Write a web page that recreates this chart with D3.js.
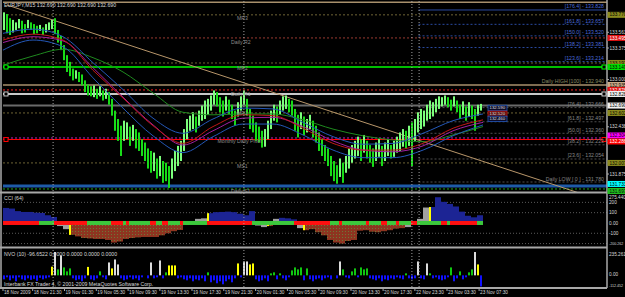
<!DOCTYPE html>
<html>
<head>
<meta charset="utf-8">
<script src="https://cdn.jsdelivr.net/npm/d3@7"></script>
<style>
  body { margin: 0; background: #000; }
  svg { display: block; font-family: "Liberation Sans", Arial, sans-serif; }
</style>
</head>
<body>
<script>
// EURJPY M15, 18 - 23 Nov 2009. One entry = one bar on screen.
const barHigh = [
  133.80, 133.78, 133.73, 133.71, 133.68, 133.72, 133.70, 133.66, 133.71, 133.68,
  133.66, 133.64, 133.65, 133.62, 133.66, 133.68, 133.71, 133.73, 133.59, 133.52,
  133.41, 133.29, 133.21, 133.13, 133.11, 133.09, 133.06, 132.99, 132.94, 132.92,
  132.93, 132.89, 132.92, 132.87, 132.89, 132.85, 132.77, 132.63, 132.53, 132.45,
  132.51, 132.49, 132.44, 132.46, 132.41, 132.37, 132.29, 132.25, 132.18, 132.15,
  132.13, 132.06, 132.09, 132.03, 132.01, 131.97, 132.06, 132.15, 132.21, 132.27,
  132.41, 132.53, 132.57, 132.61, 132.56, 132.63, 132.69, 132.75, 132.77, 132.81,
  132.87, 132.85, 132.79, 132.75, 132.80, 132.76, 132.70, 132.63, 132.73, 132.80,
  132.87, 132.77, 132.65, 132.57, 132.49, 132.44, 132.39, 132.41, 132.51, 132.63,
  132.70, 132.68, 132.75, 132.80, 132.81, 132.77, 132.75, 132.65, 132.58, 132.61,
  132.56, 132.53, 132.58, 132.51, 132.45, 132.37, 132.29, 132.22, 132.18, 132.09,
  132.03, 131.98, 132.06, 132.01, 132.09, 132.18, 132.22, 132.27, 132.32, 132.29,
  132.34, 132.27, 132.22, 132.18, 132.25, 132.29, 132.21, 132.25, 132.29, 132.22,
  132.27, 132.32, 132.37, 132.41, 132.39, 132.45, 132.49, 132.53, 132.61, 132.65,
  132.63, 132.70, 132.75, 132.73, 132.77, 132.80, 132.79, 132.81, 132.79, 132.76,
  132.80, 132.75, 132.70, 132.74, 132.68, 132.73, 132.69, 132.65, 132.70, 132.71
];
const barLow = [
  133.59, 133.55, 133.53, 133.56, 133.59, 133.61, 133.55, 133.56, 133.61, 133.59,
  133.54, 133.55, 133.58, 133.53, 133.56, 133.59, 133.60, 133.54, 133.44, 133.35,
  133.23, 133.09, 133.04, 132.99, 133.01, 132.97, 132.93, 132.85, 132.81, 132.80,
  132.79, 132.77, 132.80, 132.75, 132.77, 132.70, 132.57, 132.39, 132.27, 132.09,
  132.27, 132.29, 132.21, 132.27, 132.18, 132.15, 132.09, 132.03, 131.94, 131.89,
  131.91, 131.82, 131.85, 131.77, 131.79, 131.71, 131.82, 131.91, 131.97, 132.03,
  132.15, 132.29, 132.39, 132.41, 132.37, 132.45, 132.51, 132.53, 132.58, 132.63,
  132.70, 132.68, 132.61, 132.56, 132.63, 132.59, 132.53, 132.45, 132.56, 132.63,
  132.70, 132.57, 132.41, 132.37, 132.27, 132.25, 132.19, 132.20, 132.29, 132.41,
  132.51, 132.49, 132.58, 132.63, 132.65, 132.61, 132.57, 132.39, 132.31, 132.41,
  132.34, 132.37, 132.41, 132.31, 132.25, 132.15, 132.09, 132.03, 131.97, 131.85,
  131.79, 131.76, 131.84, 131.77, 131.89, 131.94, 132.01, 132.06, 132.09, 132.03,
  132.13, 132.06, 132.01, 131.96, 132.03, 132.08, 131.97, 132.03, 132.09, 132.06,
  132.08, 132.13, 132.15, 132.20, 132.18, 132.21, 131.97, 132.27, 132.37, 132.41,
  132.44, 132.51, 132.53, 132.56, 132.61, 132.65, 132.68, 132.70, 132.67, 132.63,
  132.68, 132.61, 132.53, 132.58, 132.51, 132.56, 132.53, 132.39, 132.57, 132.63
];

// moving averages
const maBars  = [0, 10, 20, 30, 40, 50, 60, 70, 80, 90, 100, 110, 120, 130, 140, 150, 160];
const maUpper = [133.55, 133.60, 133.51, 133.20, 132.88, 132.54, 132.36, 132.53, 132.66, 132.65, 132.49, 132.32, 132.23, 132.24, 132.36, 132.51, 132.59];
const maMid   = [133.47, 133.54, 133.47, 133.11, 132.78, 132.45, 132.24, 132.44, 132.58, 132.57, 132.42, 132.24, 132.16, 132.16, 132.24, 132.42, 132.52];
const maSlow  = [133.44, 133.51, 133.46, 133.14, 132.79, 132.46, 132.22, 132.39, 132.54, 132.55, 132.44, 132.27, 132.16, 132.14, 132.21, 132.39, 132.49];
const maLower = [133.35, 133.47, 133.39, 133.02, 132.66, 132.33, 132.13, 132.32, 132.47, 132.47, 132.34, 132.16, 132.07, 132.07, 132.16, 132.33, 132.46];
const maLong  = [133.17, 133.28, 133.36, 133.26, 133.09, 132.84, 132.61, 132.58, 132.59, 132.59, 132.52, 132.41, 132.33, 132.28, 132.26, 132.34, 132.44];

// horizontal price levels (pivots, daily high/low, bid)
const levelPrice = [133.92, 133.77, 133.495, 133.197, 133.149, 132.935, 132.876, 132.828, 132.690, 132.602, 132.304, 132.286, 132.007, 131.733, 131.697];
const levelKind  = ["frame", "month", "dailyR", "month", "mr2", "dayHigh", "redDot", "dailyR1", "bid", "month", "pivotM", "pivotD", "month", "dayLow", "s1"];

// fibonacci expansion drawn from the Sunday open
const fibLevel = ["176.4", "161.8", "150.0", "138.2", "123.6", "100", "76.4", "61.8", "50.0", "38.2", "23.6", "0"];
const fibPrice = [133.828, 133.657, 133.520, 133.381, 133.214, 132.940, 132.666, 132.497, 132.360, 132.223, 132.054, 131.780];
const fibStartBar = 138.5;

// pivot texts
const pivotText  = ["MR3", "Daily R2", "MR2", "Daily R1", "MR1", "Monthly  Daily Pivot", "MS1", "Daily S1"];
const pivotBar   = [78, 76, 78, 76, 78, 71.5, 78, 76];
const pivotPrice = [133.733, 133.447, 133.138, 132.828, 132.602, 132.268, 131.971, 131.673];

// trend line anchors
const trendBars   = [1.3, 189];
const trendPrices = [133.888, 131.685];

// CCI(64), one value per 2 bars
const cci = [
  146, 140, 115, 107, 107, 100, 97, 75, 58, -30,
  -60, -115, -130, -146, -150, -155, -155, -165, -190, -180,
  -155, -146, -140, -136, -136, -136, -120, -100, -80, -68,
  -20, -5, 40, 45, 95, 105, 107, 110, 105, 90,
  75, 115, -25, -40, -30, 40, 50, 45, 35, -50,
  -70, -60, -90, -120, -165, -190, -200, -175, -165, -75,
  -70, -85, -90, -80, -70, -55, -50, -40, -10, 40,
  150, 155, 250, 205, 185, 160, 110, 70, 55, 75
];
const cciGray   = [9, 10, 31, 32, 33, 42, 43, 45, 49, 67, 68, 69, 70];
const cciYellow = [11, 34, 44, 50, 71];
const cciTicks  = [275.44, 200, 100, 0, -100, -200.262];
const cciTickText = ["275.440", "200", "100", "0.00", "-100", "-200.262"];

// trend strip on the CCI zero line
const trendStart = [0, 12, 17, 28, 36, 40, 41, 42, 49, 51, 53, 55, 59, 60, 68, 83, 97, 109, 112, 113, 121, 122, 126, 128, 131, 132, 136, 138, 146, 148, 149, 158];
const trendUp    = [0, 1, 0, 1, 0, 1, 0, 1, 0, 1, 0, 1, 0, 1, 0, 1, 0, 1, 0, 1, 0, 1, 0, 1, 0, 1, 0, 1, 0, 1, 0, 1];

// NVO(10), one value per bar
const nvo = [
  -40, -20, -50, -30, -60, -20, -40, -50, -30, -45,
  -35, -55, -25, -40, -30, -20, 87, 235, 60, 200,
  80, 40, 70, -30, -50, -40, -60, -30, 85, -40,
  -50, -30, 40, -20, -40, 130, 70, 160, 110, -30,
  -50, -40, -20, -40, -30, -50, -20, 0, -30, 130,
  -30, -20, 150, -30, 30, 100, 100, 100, -30, -20,
  -40, -50, -30, -60, -40, -50, -30, -60, 30, -70,
  -50, -80, -60, -90, -60, -40, -70, -30, 120, -20,
  140, 140, 110, 120, -40, -60, -50, -30, -60, 20,
  30, -40, 20, -30, -50, -20, 50, 80, 60, 80,
  -50, 70, -40, -60, -40, -30, -50, -30, -20, -40,
  0, -30, 140, 60, -20, -30, 40, 70, -20, 80,
  60, 70, -30, -40, -50, -30, -60, -40, -50, -30,
  -40, -20, -30, -40, 20, -30, -40, -30, 140, -30,
  -40, 120, 20, -30, -20, -40, -50, -40, -20, 80,
  -60, -30, 40, -40, -20, 30, 60, 235, 110, -112
];
const nvoWhite  = [17, 19, 35, 37, 38, 49, 52, 80, 81, 112, 138, 141, 157];
const nvoYellow = [16, 28, 36, 55, 56, 57, 78, 82, 83, 158];
const nvoTicks  = [235.261, 0, -112.452];
const nvoTickText = ["235.261", "0.00", "-112.452"];

// axes
const priceTicks = [133.5625, 133.375, 133.0, 132.4375, 132.25, 131.875];
const daySeparators = [16.7, 80.3, 136.3, 138.7];
const timeTickBars = [0, 9.9, 20.5, 31.1, 41.7, 52.3, 63, 73.6, 84.2, 94.8, 105.3, 116, 126.7, 137.3, 148, 158.7];
const timeTickText = ["18 Nov 2009", "18 Nov 21:30", "19 Nov 01:30", "19 Nov 05:30", "19 Nov 09:30", "19 Nov 13:30",
  "19 Nov 17:30", "19 Nov 21:30", "20 Nov 01:30", "20 Nov 05:30", "20 Nov 09:30", "20 Nov 13:30",
  "20 Nov 17:30", "22 Nov 23:30", "23 Nov 03:30", "23 Nov 07:30"];

// --- styles ---
const levelStyle = {
  frame:   {color: "#a8906c", dash: null,  width: 1.5, tag: null},
  month:   {color: "#6e6434", dash: "2,2", width: 1,   tag: "#8c8c1e"},
  dailyR:  {color: "#9a3a30", dash: "2,2", width: 1,   tag: "#e01010"},
  mr2:     {color: "#00ff00", dash: null,  width: 1.5, tag: "#00e000", handle: true},
  dayHigh: {color: "#a8906c", dash: null,  width: 1.5, tag: "#c8aa88"},
  redDot:  {color: "#ff2020", dash: "2,2", width: 1,   tag: "#e01010"},
  dailyR1: {color: "#c8c8c8", dash: null,  width: 2,   tag: "#f0f0f0", handle: true},
  bid:     {color: "#6a6a6a", dash: null,  width: 2,   tag: "#f0f0f0"},
  pivotM:  {color: "#c020c0", dash: "2,2", width: 1,   tag: "#ff00ff", shift: -2.5},
  pivotD:  {color: "#ff0000", dash: null,  width: 1,   tag: "#ff0000", shift: 2, handle: true},
  dayLow:  {color: "#1e5aa8", dash: null,  width: 3,   tag: "#00ffff", shift: -2},
  s1:      {color: "#20a020", dash: "2,2", width: 1,   tag: "#20c020", shift: 2}
};
const fmt3 = d3.format(".3f");

const W = 625, H = 297;
const left = 3, axisX = 607;
const mainTop = 1, mainBot = 192, cciBot = 247.5, nvoBot = 288;
const textColor = "#d8d8d8";
const small = 4.7;   // axis font size
const tiny = 3.6;    // the two long negative axis labels

const xB = d3.scaleLinear().domain([0, 160]).range([3, 483]);
const yP = d3.scaleLinear().domain([131.661, 133.923]).range([192, 2]);
const yC = d3.scaleLinear().domain([-200.262, 275.44]).range([243.6, 194.6]);
const yV = d3.scaleLinear().domain([-112.452, 235.261]).range([286.5, 252]);

const svg = d3.select("body").append("svg")
  .attr("width", W).attr("height", H);

svg.append("rect").attr("width", W).attr("height", H).attr("fill", "#000");

const defs = svg.append("defs");
defs.append("clipPath").attr("id", "clipMain")
  .append("rect").attr("x", left).attr("y", mainTop)
  .attr("width", axisX - left).attr("height", mainBot - mainTop);

// brown dithered fill for the negative CCI
const pat = defs.append("pattern").attr("id", "cciDown")
  .attr("patternUnits", "userSpaceOnUse").attr("width", 3).attr("height", 3);
pat.append("rect").attr("width", 3).attr("height", 3).attr("fill", "#8e3420");
pat.append("rect").attr("width", 1).attr("height", 1).attr("fill", "#6a7a38");

// --- main price panel ---
const main = svg.append("g").attr("clip-path", "url(#clipMain)");

// horizontal levels
main.append("g").selectAll("line")
  .data(levelPrice)
  .join("line")
  .attr("x1", left).attr("x2", axisX)
  .attr("y1", d => yP(d)).attr("y2", d => yP(d))
  .attr("stroke", (d, i) => levelStyle[levelKind[i]].color)
  .attr("stroke-width", (d, i) => levelStyle[levelKind[i]].width)
  .attr("stroke-dasharray", (d, i) => levelStyle[levelKind[i]].dash);

// fibonacci lines (100 sits on the daily high line)
main.append("g").selectAll("line")
  .data(fibPrice)
  .join("line")
  .attr("x1", xB(fibStartBar)).attr("x2", axisX)
  .attr("y1", d => yP(d)).attr("y2", d => yP(d))
  .attr("stroke", (d, i) => i < 5 ? "#2a4aa0" : "#505050")
  .attr("stroke-dasharray", (d, i) => i === 0 ? null : "2,2")
  .attr("display", (d, i) => (i === 5) ? "none" : null);

// trend line, extended as a ray
const slope = (trendPrices[1] - trendPrices[0]) / (trendBars[1] - trendBars[0]);
const rayEnd = 200;
main.append("line")
  .attr("x1", xB(trendBars[0])).attr("y1", yP(trendPrices[0]))
  .attr("x2", xB(rayEnd)).attr("y2", yP(trendPrices[0] + slope * (rayEnd - trendBars[0])))
  .attr("stroke", "#b8966a").attr("stroke-width", 1);

// moving averages
const maLine = vals => d3.line()
  .x((d, i) => xB(maBars[i]))
  .y(d => yP(d))
  .curve(d3.curveMonotoneX)(vals);
const maSet = [
  {vals: maLong,  color: "#1f8a1f"},
  {vals: maLower, color: "#2458b8"},
  {vals: maSlow,  color: "#a020a0"},
  {vals: maMid,   color: "#c01818"},
  {vals: maUpper, color: "#2458b8"}
];

// bars
const mid = barHigh.map((h, i) => (h + barLow[i]) / 2);
main.append("g").selectAll("rect")
  .data(barHigh)
  .join("rect")
  .attr("x", (d, i) => xB(i))
  .attr("width", 2)
  .attr("y", d => yP(d))
  .attr("height", (d, i) => Math.max(1, yP(barLow[i]) - yP(d)))
  .attr("fill", (d, i) => (i > 0 && mid[i] < mid[i - 1]) ? "#18dc18" : "#7cff7c");

main.append("g").attr("fill", "none").selectAll("path")
  .data(maSet)
  .join("path")
  .attr("d", d => maLine(d.vals))
  .attr("stroke", d => d.color)
  .attr("stroke-width", 1);

// selection handles on some lines
levelPrice.forEach((p, i) => {
  const st = levelStyle[levelKind[i]];
  if (!st.handle) return;
  [left + 1, axisX - 5].forEach(hx => {
    svg.append("rect").attr("x", hx).attr("y", yP(p) - 2)
      .attr("width", 4).attr("height", 4)
      .attr("fill", "#000").attr("stroke", st.color);
  });
});

// MA value boxes
const boxVals = [maUpper, maMid, maLower];
const boxColor = ["#2458b8", "#c01818", "#2458b8"];
boxVals.forEach((vals, i) => {
  const v = vals[vals.length - 1];
  const by = yP(v) - 6;
  svg.append("rect").attr("x", xB(160) + 5).attr("y", by - 2.7)
    .attr("width", 19).attr("height", 5.4)
    .attr("fill", i === 1 ? "#5a0a0a" : "#0a0a28").attr("stroke", boxColor[i]).attr("stroke-width", 0.8);
  svg.append("text").attr("x", xB(160) + 6.5).attr("y", by)
    .attr("dy", "0.35em").attr("font-size", 4.3).attr("fill", "#e0e0e0")
    .text(fmt3(v));
});

// pivot texts
svg.append("g").selectAll("text")
  .data(pivotText)
  .join("text")
  .attr("x", (d, i) => xB(pivotBar[i]))
  .attr("y", (d, i) => yP(pivotPrice[i]))
  .attr("dy", "0.35em")
  .attr("font-size", 5.2)
  .attr("fill", "#8c8c8c")
  .text(d => d);

// fib labels, right aligned above each line
svg.append("g").selectAll("text")
  .data(fibPrice)
  .join("text")
  .attr("x", axisX - 3)
  .attr("y", d => yP(d) - 1.5)
  .attr("text-anchor", "end")
  .attr("font-size", 5.2)
  .attr("fill", (d, i) => i < 5 ? "#4a6ad8" : (i === 5 ? "#8a8a62" : "#858585"))
  .text((d, i) => {
    const lv = fibLevel[i];
    if (lv === "100") return `Daily HIGH [100] - ${fmt3(d)}`;
    if (lv === "0") return `Daily LOW [ 0 ] - ${fmt3(d)}`;
    return `[${lv}] - ${fmt3(d)}`;
  });

// --- CCI panel ---
const cciG = svg.append("g");
cciG.selectAll("line.grid")
  .data([200, 100, -100, -200])
  .join("line")
  .attr("x1", left).attr("x2", axisX)
  .attr("y1", d => yC(d)).attr("y2", d => yC(d))
  .attr("stroke", "#5a5a5a").attr("stroke-dasharray", "1,2");

cciG.selectAll("rect.cci")
  .data(cci)
  .join("rect")
  .attr("x", (d, k) => xB(2 * k))
  .attr("width", (d, k) => xB(2 * k + 2) - xB(2 * k))
  .attr("y", d => yC(Math.max(d, 0)))
  .attr("height", d => Math.abs(yC(d) - yC(0)))
  .attr("fill", (d, k) => cciGray.includes(k) ? "#a0a0a0" : (d >= 0 ? "#1c2494" : "url(#cciDown)"));

cciG.selectAll("rect.sig")
  .data(cciYellow)
  .join("rect")
  .attr("x", k => xB(2 * k))
  .attr("width", 2)
  .attr("y", k => yC(Math.max(cci[k], 0)))
  .attr("height", k => Math.abs(yC(cci[k]) - yC(0)))
  .attr("fill", "#ffff00");

// trend strip
cciG.selectAll("rect.strip")
  .data(trendStart)
  .join("rect")
  .attr("x", d => xB(d))
  .attr("width", (d, i) => xB(i + 1 < trendStart.length ? trendStart[i + 1] : 160) - xB(d))
  .attr("y", yC(0) - 2)
  .attr("height", 4)
  .attr("fill", (d, i) => trendUp[i] ? "#3cc83c" : "#ff1010");

// --- NVO panel ---
svg.append("g").selectAll("rect")
  .data(nvo)
  .join("rect")
  .attr("x", (d, i) => xB(i))
  .attr("width", 2)
  .attr("y", d => yV(Math.max(d, 0)))
  .attr("height", d => Math.abs(yV(d) - yV(0)))
  .attr("fill", (d, i) => nvoWhite.includes(i) ? "#dcdcdc"
    : nvoYellow.includes(i) ? "#ffff00"
    : d >= 0 ? "#10c810" : "#1010ff");

// --- frames ---
const frame = svg.append("g").attr("stroke", "#a8a8a8");
frame.append("line").attr("x1", 1).attr("x2", 1).attr("y1", 0).attr("y2", nvoBot).attr("stroke-width", 1.5);
frame.append("line").attr("x1", axisX).attr("x2", axisX).attr("y1", 0).attr("y2", nvoBot).attr("stroke-width", 1.5);
[mainBot + 0.5, cciBot, nvoBot].forEach(yy => {
  frame.append("line").attr("x1", 0).attr("x2", axisX).attr("y1", yy).attr("y2", yy).attr("stroke-width", 2);
});

// day separators
svg.append("g").selectAll("line")
  .data(daySeparators)
  .join("line")
  .attr("x1", d => xB(d)).attr("x2", d => xB(d))
  .attr("y1", 1).attr("y2", nvoBot)
  .attr("stroke", "#a0a0a0").attr("stroke-dasharray", "1,2");

// --- right axis ---
const axisG = svg.append("g").attr("font-size", small).attr("fill", textColor);
axisG.selectAll("text.p")
  .data(priceTicks)
  .join("text")
  .attr("x", axisX + 2.5).attr("y", d => yP(d)).attr("dy", "0.35em")
  .text(d => fmt3(d));
axisG.selectAll("line.p")
  .data(priceTicks)
  .join("line")
  .attr("x1", axisX).attr("x2", axisX + 2)
  .attr("y1", d => yP(d)).attr("y2", d => yP(d))
  .attr("stroke", "#a8a8a8");

axisG.selectAll("text.c")
  .data(cciTicks)
  .join("text")
  .attr("x", axisX + 2).attr("y", (d, i) => i === 0 ? yC(d) + 2.5 : yC(d)).attr("dy", "0.35em")
  .attr("font-size", (d, i) => cciTickText[i].length > 7 ? tiny : small)
  .text((d, i) => cciTickText[i]);

axisG.selectAll("text.v")
  .data(nvoTicks)
  .join("text")
  .attr("x", axisX + 2).attr("y", (d, i) => i === 0 ? yV(d) + 2 : yV(d) - 0.5).attr("dy", "0.35em")
  .attr("font-size", (d, i) => nvoTickText[i].length > 7 ? tiny : small)
  .text((d, i) => nvoTickText[i]);

// price tags for the levels
const tagG = svg.append("g");
levelPrice.forEach((p, i) => {
  const st = levelStyle[levelKind[i]];
  if (!st.tag) return;
  const ty = yP(p) + (st.shift || 0);
  tagG.append("rect").attr("x", axisX + 0.5).attr("y", ty - 3)
    .attr("width", W - axisX).attr("height", 6).attr("fill", st.tag);
  tagG.append("text").attr("x", axisX + 2.5).attr("y", ty).attr("dy", "0.35em")
    .attr("font-size", small)
    .attr("fill", (st.tag === "#e01010" || st.tag === "#ff0000") ? "#ffffff" : "#000000")
    .text(fmt3(p));
});

// --- time axis ---
const timeG = svg.append("g");
timeG.selectAll("line")
  .data(timeTickBars)
  .join("line")
  .attr("x1", d => xB(d)).attr("x2", d => xB(d))
  .attr("y1", nvoBot).attr("y2", nvoBot + 3)
  .attr("stroke", "#a8a8a8");
timeG.selectAll("text")
  .data(timeTickBars)
  .join("text")
  .attr("x", d => xB(d) + 1)
  .attr("y", 292.5).attr("dy", "0.35em")
  .attr("font-size", small).attr("fill", textColor)
  .text((d, i) => timeTickText[i]);

// --- titles ---
const titles = [
  {t: `EURJPY,M15  ${fmt3(132.69)} ${fmt3(132.69)} ${fmt3(132.69)} ${fmt3(132.69)}`, y: 5.5},
  {t: "CCI (64)", y: 198.5},
  {t: "NVO (10) -96.6522 0.0000 0.0000 0.0000 0.0000", y: 254.5},
  {t: "Interbank FX Trader 4, \u00a9 2001-2009 MetaQuotes Software Corp.", y: 284.5}
];
svg.append("g").selectAll("text")
  .data(titles)
  .join("text")
  .attr("x", 4).attr("y", d => d.y).attr("dy", "0.35em")
  .attr("font-size", 5.2).attr("fill", textColor)
  .text(d => d.t);
</script>
</body>
</html>
